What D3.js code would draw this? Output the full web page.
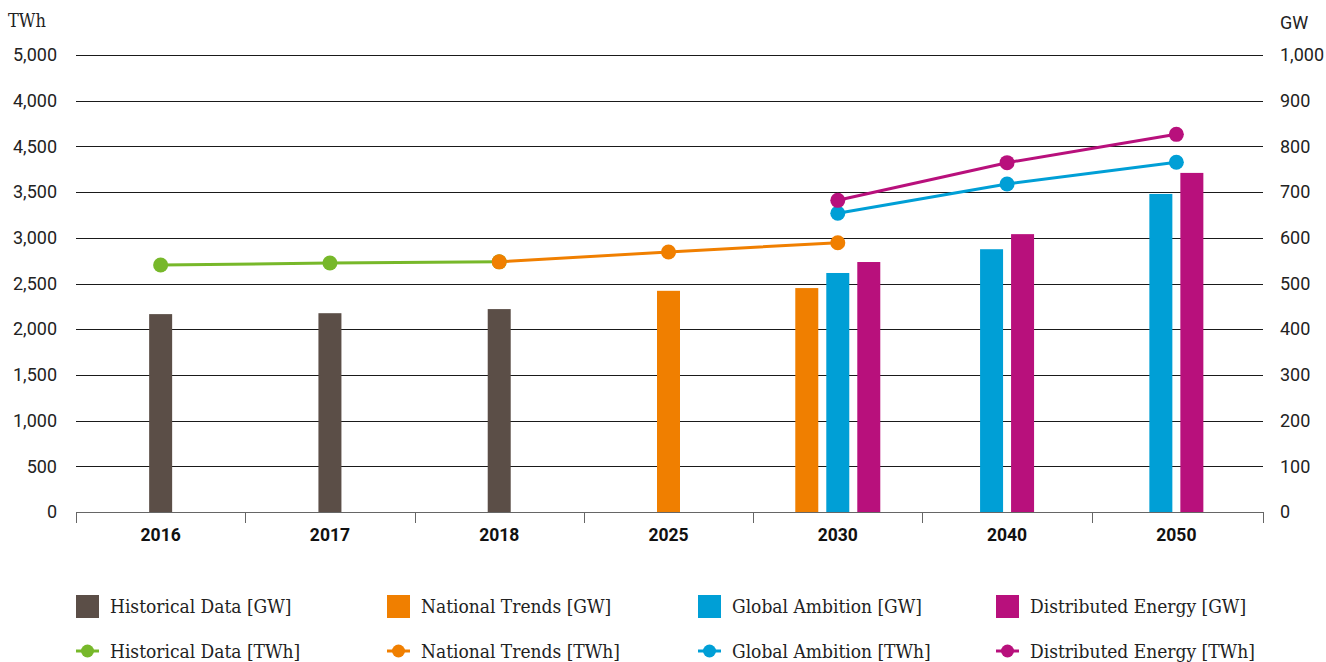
<!DOCTYPE html>
<html><head><meta charset="utf-8">
<script src="https://cdn.jsdelivr.net/npm/d3@7"></script>
<style>
html,body{margin:0;padding:0;background:#fff;}
svg{display:block;}
</style></head>
<body>
<svg id="chart" width="1326" height="662"></svg>
<script>
const categories = ["2016","2017","2018","2025","2030","2040","2050"];
const leftTickValues = [0,500,1000,1500,2000,2500,3000,3500,4000,4500,5000];
const leftTickLabels = ["0","500","1,000","1,500","2,000","2,500","3,000","3,500","4,500","4,000","5,000"];
const rightTickValues = [0,100,200,300,400,500,600,700,800,900,1000];
const rightTickLabels = ["0","100","200","300","400","500","600","700","800","900","1,000"];

// GW bars (right axis)
const historicalGW = [{c:"2016",v:433},{c:"2017",v:435},{c:"2018",v:444}];
const nationalGW   = [{c:"2025",v:484},{c:"2030",v:490}];
const globalGW     = [{c:"2030",v:523},{c:"2040",v:575},{c:"2050",v:696}];
const distributedGW= [{c:"2030",v:547},{c:"2040",v:608},{c:"2050",v:742}];

// TWh lines (left axis)
const historicalTWh = [{c:"2016",v:2702},{c:"2017",v:2724},{c:"2018",v:2737}];
const nationalTWh   = [{c:"2018",v:2737},{c:"2025",v:2845},{c:"2030",v:2946}];
const globalTWh     = [{c:"2030",v:3268},{c:"2040",v:3589},{c:"2050",v:3826}];
const distributedTWh= [{c:"2030",v:3410},{c:"2040",v:3822},{c:"2050",v:4132}];

const seriesNames = ["Historical Data","National Trends","Global Ambition","Distributed Energy"];
const colors = ["#5b4e47","#f07f00","#009fd6","#b8107c"];
const lineColors = ["#77b82a","#f07f00","#009fd6","#b8107c"];

const barSeries = [historicalGW,nationalGW,globalGW,distributedGW];
const lineSeries = [historicalTWh,nationalTWh,globalTWh,distributedTWh];

const svg = d3.select("#chart");
const m = {left:76,right:1263,top:55,bottom:512};
const numFont = "Roboto, 'Noto Sans', sans-serif";
const txtFont = "'DejaVu Serif Condensed','DejaVu Serif',serif";

const x = d3.scaleBand().domain(categories).range([m.left, 1261]).padding(0);
const yL = d3.scaleLinear().domain([0,5000]).range([m.bottom,m.top]);
const yR = d3.scaleLinear().domain([0,1000]).range([m.bottom,m.top]);

// gridlines
svg.append("g").selectAll("line").data(leftTickValues.filter(v=>v>0)).join("line")
  .attr("x1",m.left).attr("x2",m.right)
  .attr("y1",d=>Math.round(yL(d))+0.5).attr("y2",d=>Math.round(yL(d))+0.5)
  .attr("stroke","#1a1a1a").attr("stroke-width",1);

// left axis labels
const gl = svg.append("g").attr("transform",`translate(${m.left-19},0)`)
  .call(d3.axisLeft(yL).tickValues(leftTickValues).tickSize(0).tickPadding(0)
    .tickFormat((d,i)=>leftTickLabels[i]));
gl.select(".domain").remove();
gl.selectAll("text").attr("font-family",numFont).attr("font-size",18).attr("fill","#222");

const gr = svg.append("g").attr("transform",`translate(${m.right+17},0)`)
  .call(d3.axisRight(yR).tickValues(rightTickValues).tickSize(0).tickPadding(0)
    .tickFormat((d,i)=>rightTickLabels[i]));
gr.select(".domain").remove();
gr.selectAll("text").attr("font-family",numFont).attr("font-size",18).attr("fill","#222");

svg.append("text").attr("x",8).attr("y",27).text("TWh")
  .attr("font-family",txtFont).attr("font-size",18).attr("fill","#222");
svg.append("text").attr("x",1280).attr("y",29).text("GW")
  .attr("font-family",numFont).attr("font-size",18).attr("fill","#222");

// bars
const bw = 23, step = 31;
categories.forEach(cat=>{
  const present = [];
  barSeries.forEach((s,si)=>{ const d = s.find(e=>e.c===cat); if(d) present.push({si,v:d.v}); });
  const cx = x(cat)+x.bandwidth()/2;
  present.forEach((p,k)=>{
    const off = (k-(present.length-1)/2)*step;
    svg.append("rect").attr("x",cx+off-bw/2).attr("width",bw)
      .attr("y",yR(p.v)).attr("height",yR(0)-yR(p.v)).attr("fill",colors[p.si]);
  });
});

// bottom axis
const gx = svg.append("g").attr("transform",`translate(0,${m.bottom})`)
  .call(d3.axisBottom(x).tickSize(0).tickPadding(17));
gx.select(".domain").attr("stroke","#666").attr("d",`M${m.left},0.5H${m.right}`);
gx.selectAll("text").attr("font-family",numFont).attr("font-weight","bold").attr("font-size",17.5).attr("fill","#111");
const bounds = categories.map(c=>x(c)).concat([m.right]);
svg.append("g").selectAll("line").data(bounds).join("line")
  .attr("x1",d=>Math.round(d)+0.5).attr("x2",d=>Math.round(d)+0.5)
  .attr("y1",m.bottom).attr("y2",m.bottom+11).attr("stroke","#666");

// lines
const line = d3.line().x(d=>x(d.c)+x.bandwidth()/2).y(d=>yL(d.v));
lineSeries.forEach((s,si)=>{
  svg.append("path").datum(s).attr("d",line).attr("fill","none")
    .attr("stroke",lineColors[si]).attr("stroke-width",3);
});
lineSeries.forEach((s,si)=>{
  svg.append("g").selectAll("circle").data(s).join("circle")
    .attr("cx",d=>x(d.c)+x.bandwidth()/2).attr("cy",d=>yL(d.v)).attr("r",7.5)
    .attr("fill",lineColors[si]);
});

// legend
const legX = [76,387,698,996];
seriesNames.forEach((n,i)=>{
  svg.append("rect").attr("x",legX[i]).attr("y",595).attr("width",23).attr("height",23).attr("fill",colors[i]);
  svg.append("text").attr("x",legX[i]+34).attr("y",613).text(n+" [GW]")
    .attr("font-family",txtFont).attr("font-size",19).attr("fill","#222");
  svg.append("line").attr("x1",legX[i]).attr("x2",legX[i]+23).attr("y1",651).attr("y2",651)
    .attr("stroke",lineColors[i]).attr("stroke-width",3);
  svg.append("circle").attr("cx",legX[i]+11.5).attr("cy",651).attr("r",6.5).attr("fill",lineColors[i]);
  svg.append("text").attr("x",legX[i]+34).attr("y",658).text(n+" [TWh]")
    .attr("font-family",txtFont).attr("font-size",19).attr("fill","#222");
});
</script>
</body></html>
